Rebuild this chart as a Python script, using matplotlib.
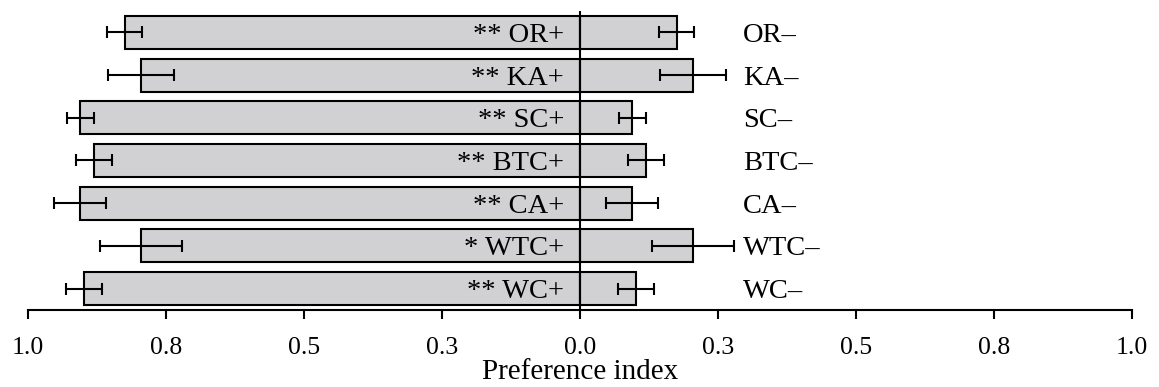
import matplotlib
matplotlib.use("Agg")
import matplotlib.pyplot as plt
import numpy as np

plt.rcParams["font.family"] = ["Liberation Serif", "DejaVu Serif"]

# Odor pairs, top to bottom
categories = ["OR", "KA", "SC", "BTC", "CA", "WTC", "WC"]
significance = ["**", "**", "**", "**", "**", "*", "**"]
# Preference index for the "+" and "–" choice of each pair
pos_index = [0.825, 0.795, 0.905, 0.880, 0.906, 0.795, 0.899]
neg_index = [0.175, 0.205, 0.095, 0.120, 0.094, 0.205, 0.101]
sem = [0.032, 0.060, 0.025, 0.033, 0.047, 0.074, 0.033]

tick_values = [-1.0, -0.75, -0.5, -0.25, 0.0, 0.25, 0.5, 0.75, 1.0]
tick_labels = ["1.0", "0.8", "0.5", "0.3", "0.0", "0.3", "0.5", "0.8", "1.0"]

fig = plt.figure(figsize=(11.59, 3.87), dpi=100)
ax = fig.add_axes([28 / 1159, 77 / 387, 1104 / 1159, 299 / 387])

n = len(categories)
y = np.arange(n)[::-1]
bar_h = 0.77
face = "#d1d0d2"
lw = 1.5
err_kw = dict(ecolor="black", elinewidth=lw, capsize=4.5, capthick=lw)

ax.barh(y, -np.asarray(pos_index), height=bar_h, color=face, edgecolor="black",
        linewidth=lw, xerr=sem, error_kw=err_kw, zorder=2)
ax.barh(y, neg_index, height=bar_h, color=face, edgecolor="black",
        linewidth=lw, xerr=sem, error_kw=err_kw, zorder=2)

ax.axvline(0, color="black", linewidth=lw, zorder=3)

for yi, cat, sig in zip(y, categories, significance):
    ax.text(-0.029, yi, f"{sig} {cat}+", ha="right", va="center_baseline",
            fontsize=20.5, zorder=4)
    ax.text(0.295, yi, f"{cat}–", ha="left", va="center_baseline",
            fontsize=20.5, zorder=4)

ax.set_xlim(-1.0, 1.0)
ax.set_ylim(-0.5, 6.5)
ax.set_xticks(tick_values)
ax.set_xticklabels(tick_labels, fontsize=18.5)
ax.set_yticks([])
ax.tick_params(axis="x", direction="out", length=6.5, width=lw, pad=13)
for side in ("top", "right", "left"):
    ax.spines[side].set_visible(False)
ax.spines["bottom"].set_linewidth(lw)
ax.set_xlabel("Preference index", fontsize=21, labelpad=0)

fig.savefig("out.png", dpi=100)
